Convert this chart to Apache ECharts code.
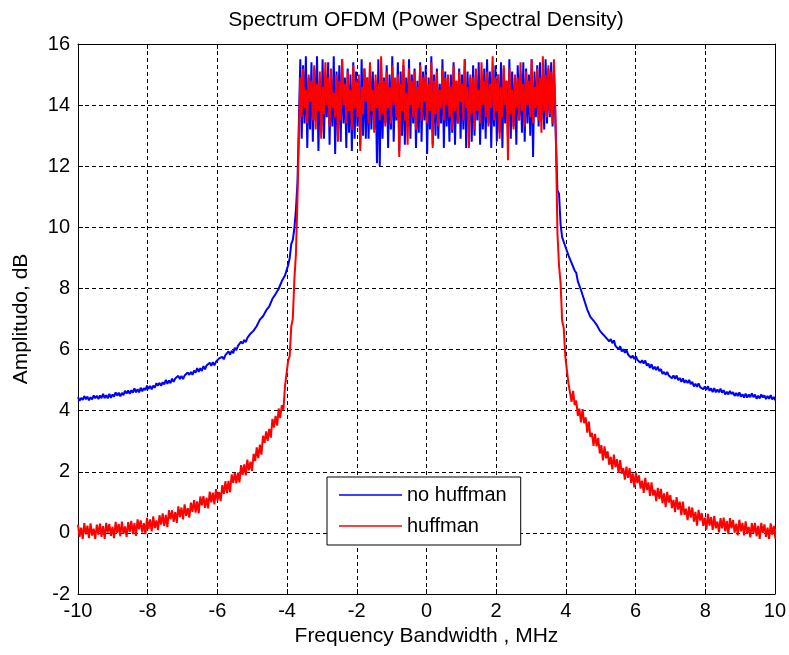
<!DOCTYPE html>
<html>
<head>
<meta charset="utf-8">
<script src="https://cdn.jsdelivr.net/npm/echarts@6/dist/echarts.min.js"></script>
<style>
  html, body { margin: 0; padding: 0; background: #ffffff; }
  #chart { width: 789px; height: 655px; }
</style>
</head>
<body>
<div id="chart"></div>
<script>
// Power spectral density samples (dB). Each band is sampled on its own
// regular frequency grid (MHz): start + index * step.
const leftStart = -10.0, leftStep = 0.045;  // outer skirt, negative side
const midStart = -3.62, midStep = 0.04;     // occupied OFDM band
const rightStart = 3.76, rightStep = 0.045; // outer skirt, positive side

const blueLeft = [
  4.44, 4.32, 4.42, 4.35, 4.48, 4.37, 4.46, 4.34, 4.44, 4.37,
  4.50, 4.41, 4.49, 4.38, 4.50, 4.41, 4.55, 4.41, 4.51, 4.40,
  4.55, 4.42, 4.53, 4.46, 4.60, 4.49, 4.59, 4.47, 4.58, 4.51,
  4.65, 4.56, 4.66, 4.55, 4.67, 4.59, 4.73, 4.60, 4.70, 4.60,
  4.75, 4.63, 4.74, 4.67, 4.82, 4.71, 4.81, 4.70, 4.82, 4.75,
  4.90, 4.82, 4.91, 4.81, 4.93, 4.86, 5.01, 4.88, 4.99, 4.90,
  5.05, 4.94, 5.05, 4.99, 5.14, 5.03, 5.14, 5.03, 5.15, 5.09,
  5.25, 5.17, 5.27, 5.17, 5.31, 5.24, 5.39, 5.27, 5.39, 5.30,
  5.46, 5.35, 5.48, 5.42, 5.57, 5.47, 5.59, 5.48, 5.60, 5.54,
  5.71, 5.65, 5.76, 5.68, 5.82, 5.77, 5.94, 5.83, 5.96, 5.88,
  6.06, 5.98, 6.12, 6.09, 6.26, 6.19, 6.32, 6.24, 6.38, 6.35,
  6.52, 6.47, 6.62, 6.58, 6.77, 6.77, 6.98, 6.92, 7.09, 7.06,
  7.28, 7.23, 7.41, 7.43, 7.66, 7.64, 7.82, 7.79, 7.99, 8.01,
  8.24, 8.24, 8.42, 8.40, 8.76, 8.99, 9.45, 9.59, 9.97, 10.58,
  11.5
];
const blueMid = [
  15.5, 12.9, 15.3, 13.4, 15.6, 12.6, 14.9, 13.2, 15.4, 12.8,
  15.2, 13.5, 15.6, 12.5, 14.8, 13.1, 15.5, 12.9, 15.0, 13.6,
  15.4, 12.7, 14.9, 13.3, 15.6, 12.4, 15.1, 13.0, 15.3, 12.8,
  15.5, 13.4, 14.9, 12.6, 15.2, 13.1, 15.0, 12.5, 15.4, 12.9,
  15.1, 13.3, 14.8, 12.7, 15.5, 13.0, 15.2, 12.9, 14.9, 12.9,
  15.3, 13.2, 15.1, 13.2, 14.8, 12.1, 15.5, 12.0, 15.2, 12.9,
  14.9, 13.4, 15.3, 12.6, 15.0, 13.2, 15.6, 12.8, 14.7, 13.5,
  15.4, 12.5, 15.1, 13.0, 15.3, 12.7, 14.9, 13.3, 15.5, 12.9,
  15.0, 13.4, 15.2, 12.6, 14.8, 13.1, 15.4, 12.8, 15.1, 13.5,
  15.3, 12.4, 14.9, 13.2, 15.6, 12.7, 15.0, 13.0, 15.2, 12.9,
  14.7, 13.4, 15.5, 12.6, 15.1, 13.3, 14.9, 12.8, 15.0, 13.1,
  15.4, 12.7, 14.8, 13.4, 15.2, 12.9, 15.0, 13.2, 15.5, 12.6,
  15.1, 13.3, 14.9, 12.8, 15.3, 13.0, 15.0, 13.5, 15.4, 12.7,
  14.8, 13.2, 15.2, 12.9, 15.5, 13.4, 15.1, 12.6, 14.9, 13.3,
  15.3, 12.8, 15.0, 13.1, 15.4, 12.6, 15.2, 13.4, 14.8, 13.0,
  15.5, 12.9, 15.1, 13.3, 14.9, 12.7, 15.3, 13.5, 15.0, 13.1,
  15.4, 12.8, 15.2, 13.4, 15.0, 13.0, 15.5, 12.3, 15.1, 13.6,
  15.3, 13.3, 15.4, 13.5, 15.0, 13.2, 15.5, 13.4, 15.2, 13.6,
  15.4, 13.3, 15.1, 13.5
];
const blueRight = [
  11.2, 11.1, 10.1, 9.67, 9.66, 9.38, 9.34, 9.08, 9.05, 8.84,
  8.83, 8.58, 8.51, 8.23, 8.19, 7.95, 7.93, 7.63, 7.57, 7.31,
  7.29, 7.07, 7.10, 6.95, 7.00, 6.81, 6.83, 6.62, 6.65, 6.50,
  6.55, 6.39, 6.43, 6.27, 6.34, 6.21, 6.30, 6.12, 6.16, 6.01,
  6.11, 5.94, 6.01, 5.89, 5.99, 5.84, 5.90, 5.73, 5.80, 5.69,
  5.78, 5.66, 5.71, 5.57, 5.65, 5.54, 5.64, 5.47, 5.54, 5.40,
  5.52, 5.36, 5.44, 5.33, 5.44, 5.29, 5.36, 5.20, 5.27, 5.17,
  5.27, 5.15, 5.20, 5.06, 5.15, 5.04, 5.15, 5.00, 5.07, 4.94,
  5.06, 4.91, 5.00, 4.90, 5.01, 4.87, 4.94, 4.79, 4.88, 4.78,
  4.89, 4.77, 4.83, 4.70, 4.79, 4.68, 4.80, 4.65, 4.73, 4.61,
  4.74, 4.60, 4.69, 4.60, 4.72, 4.59, 4.67, 4.53, 4.62, 4.53,
  4.65, 4.54, 4.61, 4.48, 4.58, 4.48, 4.60, 4.46, 4.54, 4.43,
  4.56, 4.43, 4.53, 4.44, 4.57, 4.44, 4.53, 4.39, 4.49, 4.40,
  4.53, 4.43, 4.50, 4.38, 4.48, 4.39, 4.51, 4.37, 4.45, 4.34,
  4.48
];

const redLeft = [
  0.27, -0.13, 0.17, -0.20, 0.32, -0.05, 0.24, -0.17, 0.31, -0.09,
  0.14, -0.20, 0.27, -0.06, 0.30, -0.13, 0.22, -0.20, 0.33, 0.01,
  0.29, -0.10, 0.20, -0.17, 0.36, 0.00, 0.29, -0.11, 0.37, -0.03,
  0.21, -0.13, 0.35, 0.03, 0.39, -0.04, 0.32, -0.10, 0.44, 0.12,
  0.41, 0.02, 0.32, -0.04, 0.49, 0.13, 0.44, 0.05, 0.54, 0.16,
  0.41, 0.09, 0.58, 0.27, 0.64, 0.22, 0.59, 0.19, 0.74, 0.44,
  0.74, 0.36, 0.68, 0.33, 0.87, 0.52, 0.83, 0.44, 0.93, 0.56,
  0.81, 0.50, 0.99, 0.69, 1.07, 0.66, 1.03, 0.64, 1.19, 0.90,
  1.20, 0.82, 1.15, 0.80, 1.35, 1.00, 1.32, 0.93, 1.43, 1.06,
  1.33, 1.04, 1.56, 1.28, 1.69, 1.30, 1.70, 1.33, 1.91, 1.64,
  1.97, 1.62, 1.97, 1.65, 2.22, 1.90, 2.24, 1.88, 2.40, 2.05,
  2.33, 2.03, 2.59, 2.35, 2.80, 2.45, 2.89, 2.56, 3.18, 2.95,
  3.32, 3.01, 3.40, 3.12, 3.73, 3.45, 3.83, 3.51, 4.07, 3.76,
  4.18, 4.02, 4.79, 4.78, 5.63, 5.78, 6.75, 7.01, 8.30, 9.14,
  11.0
];
const redMid = [
  14.9, 13.6, 15.2, 13.9, 14.5, 13.4, 15.0, 14.1, 14.8, 13.5,
  15.3, 13.2, 14.7, 13.8, 15.1, 12.9, 14.6, 13.7, 15.4, 14.0,
  14.9, 13.3, 15.2, 13.9, 14.4, 13.6, 15.0, 12.8, 14.8, 13.5,
  15.5, 14.0, 14.7, 13.4, 15.1, 13.8, 14.5, 13.2, 15.3, 13.9,
  14.8, 13.6, 15.0, 12.5, 14.6, 13.7, 15.2, 14.1, 14.9, 13.4,
  15.4, 13.8, 14.5, 13.1, 15.0, 13.9, 14.7, 13.5, 15.6, 13.7,
  14.8, 13.3, 15.1, 13.9, 14.6, 13.4, 15.3, 14.0, 14.9, 13.6,
  15.0, 12.3, 14.7, 13.8, 15.5, 13.5, 14.4, 12.7, 15.2, 14.0,
  14.8, 13.6, 15.1, 13.2, 14.6, 13.9, 15.3, 13.5, 14.9, 14.1,
  15.0, 13.4, 14.7, 13.8, 15.4, 12.6, 14.8, 13.7, 15.1, 13.3,
  14.5, 13.9, 15.2, 13.5, 14.9, 14.0, 15.0, 13.6, 14.6, 13.2,
  15.3, 13.8, 14.8, 13.4, 15.1, 14.1, 14.7, 13.5, 15.5, 13.9,
  14.6, 12.6, 15.0, 13.7, 14.9, 13.2, 15.2, 13.8, 14.5, 13.4,
  15.4, 14.0, 14.8, 13.6, 15.1, 13.3, 14.7, 13.9, 15.6, 13.5,
  14.9, 13.8, 15.0, 12.9, 14.6, 13.6, 15.3, 14.0, 14.8, 12.2,
  15.2, 13.7, 14.5, 13.2, 15.0, 13.9, 14.9, 13.5, 15.4, 13.8,
  14.7, 13.3, 15.1, 14.0, 14.8, 13.6, 15.5, 13.4, 14.6, 13.9,
  15.2, 13.5, 14.9, 13.1, 15.6, 13.8, 15.0, 13.6, 15.3, 13.7,
  15.1, 13.4, 15.5, 13.9
];
const redRight = [
  9.80, 8.75, 8.18, 6.94, 6.71, 5.78, 5.74, 4.90, 4.91, 4.29,
  4.65, 4.18, 4.33, 3.83, 4.07, 3.62, 4.05, 3.59, 3.78, 3.28,
  3.64, 3.14, 3.27, 2.85, 3.24, 2.83, 3.11, 2.60, 2.87, 2.37,
  2.83, 2.44, 2.67, 2.23, 2.49, 2.08, 2.56, 2.15, 2.41, 1.96,
  2.38, 1.94, 2.12, 1.74, 2.17, 1.80, 2.12, 1.64, 1.95, 1.49,
  1.98, 1.63, 1.88, 1.45, 1.71, 1.31, 1.80, 1.40, 1.65, 1.21,
  1.65, 1.22, 1.41, 1.04, 1.47, 1.11, 1.44, 0.97, 1.29, 0.84,
  1.34, 0.99, 1.24, 0.81, 1.08, 0.68, 1.17, 0.76, 1.02, 0.58,
  1.02, 0.59, 0.79, 0.42, 0.86, 0.50, 0.83, 0.37, 0.69, 0.24,
  0.75, 0.40, 0.65, 0.23, 0.50, 0.11, 0.62, 0.24, 0.52, 0.10,
  0.56, 0.15, 0.37, 0.02, 0.48, 0.15, 0.50, 0.05, 0.39, -0.04,
  0.48, 0.15, 0.42, 0.01, 0.30, -0.08, 0.43, 0.05, 0.33, -0.08,
  0.38, -0.03, 0.20, -0.15, 0.32, -0.02, 0.33, -0.11, 0.23, -0.20,
  0.33, 0.00, 0.28, -0.13, 0.17, -0.20, 0.31, -0.06, 0.23, -0.19,
  0.28
];

const xTicks = { min: -10, max: 10, interval: 2 };
const yTicks = { min: -2, max: 16, interval: 2 };

function band(start, step, values) {
  return values.map((v, i) => [+(start + i * step).toFixed(4), v]);
}
function spectrum(left, mid, right) {
  return band(leftStart, leftStep, left)
    .concat(band(midStart, midStep, mid))
    .concat(band(rightStart, rightStep, right));
}

const FONT = '"Liberation Sans", Arial, Helvetica, sans-serif';
const FS = 20;
const black = '#000000';

const chart = echarts.init(document.getElementById('chart'), null, { renderer: 'canvas' });

const frameAxis = (pos) => ({
  type: 'value',
  position: pos,
  axisLine: { show: true, onZero: false, lineStyle: { color: black, width: 1 } },
  axisTick: { show: true, inside: true, length: 5, lineStyle: { color: black } },
  axisLabel: { show: false },
  splitLine: { show: false }
});

chart.setOption({
  animation: false,
  backgroundColor: '#ffffff',
  graphic: [{
    type: 'text',
    x: 426,
    y: 20,
    style: {
      text: 'Spectrum OFDM (Power Spectral Density)',
      font: '21px ' + FONT,
      fill: black,
      align: 'center',
      verticalAlign: 'middle'
    }
  }],
  grid: { left: 78, right: 13, top: 44, bottom: 61, containLabel: false },
  legend: {
    left: 327,
    top: 477,
    orient: 'vertical',
    backgroundColor: '#ffffff',
    borderColor: black,
    borderWidth: 1,
    borderRadius: 0,
    padding: [8, 14, 9, 12],
    icon: 'rect',
    symbolKeepAspect: false,
    itemWidth: 63,
    itemHeight: 1.5,
    itemGap: 11,
    textStyle: { color: black, fontSize: FS, fontFamily: FONT, lineHeight: 20 },
    data: ['no huffman', 'huffman']
  },
  xAxis: [
    Object.assign({}, frameAxis('bottom'), xTicks, {
      axisLabel: { show: true, color: black, fontSize: FS, fontFamily: FONT, margin: 7 },
      splitLine: { show: true, lineStyle: { color: black, type: [4, 3], width: 1 } },
      name: 'Frequency Bandwidth , MHz',
      nameLocation: 'middle',
      nameGap: 32,
      nameTextStyle: { color: black, fontSize: 21, fontFamily: FONT }
    }),
    Object.assign({}, frameAxis('top'), xTicks)
  ],
  yAxis: [
    Object.assign({}, frameAxis('left'), yTicks, {
      axisLabel: { show: true, color: black, fontSize: FS, fontFamily: FONT, margin: 8 },
      splitLine: { show: true, lineStyle: { color: black, type: [4, 3], width: 1 } },
      name: 'Amplitudo, dB',
      nameLocation: 'middle',
      nameGap: 46,
      nameTextStyle: { color: black, fontSize: 21, fontFamily: FONT }
    }),
    Object.assign({}, frameAxis('right'), yTicks)
  ],
  series: [
    {
      name: 'no huffman',
      type: 'line',
      xAxisIndex: 0,
      yAxisIndex: 0,
      data: spectrum(blueLeft, blueMid, blueRight),
      symbol: 'none',
      showSymbol: false,
      clip: true,
      sampling: null,
      lineStyle: { color: '#0000ff', width: 2, join: 'bevel' },
      itemStyle: { color: '#0000ff' },
      z: 3
    },
    {
      name: 'huffman',
      type: 'line',
      xAxisIndex: 0,
      yAxisIndex: 0,
      data: spectrum(redLeft, redMid, redRight),
      symbol: 'none',
      showSymbol: false,
      clip: true,
      sampling: null,
      lineStyle: { color: '#ff0000', width: 2, join: 'bevel' },
      itemStyle: { color: '#ff0000' },
      z: 4
    }
  ]
});
</script>
</body>
</html>
